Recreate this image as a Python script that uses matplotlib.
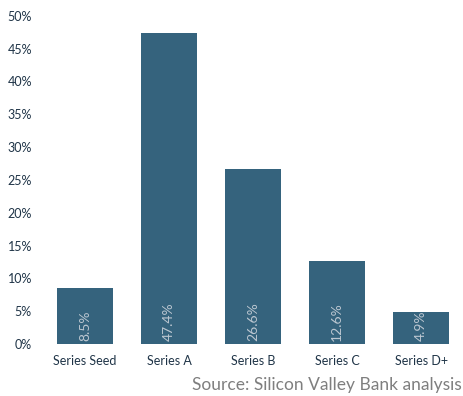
import matplotlib.pyplot as plt
from matplotlib.ticker import PercentFormatter

categories = ['Series Seed', 'Series A', 'Series B', 'Series C', 'Series D+']
values = [8.5, 47.4, 26.6, 12.6, 4.9]
yticks = [0, 5, 10, 15, 20, 25, 30, 35, 40, 45, 50]

plt.rcParams['font.family'] = ['Lato', 'DejaVu Sans']

fig = plt.figure(figsize=(4.63, 3.96), dpi=100)
ax = fig.add_axes([0.093, 0.131, 0.907, 0.829])

x = range(len(categories))
bars = ax.bar(x, values, width=0.66, color='#35637D')

for b, v in zip(bars, values):
    ax.text(b.get_x() + b.get_width() / 2, 0.4, f'{v}%', rotation=90,
            ha='center', va='bottom', color='#BCC7D1', fontsize=10)

ax.set_xlim(-0.5, len(categories) - 0.5)
ax.set_ylim(0, 50)
ax.set_yticks(yticks)
ax.yaxis.set_major_formatter(PercentFormatter(decimals=0))
ax.set_xticks(list(x))
ax.set_xticklabels(categories)
ax.tick_params(length=0, labelsize=9, colors='#1F3447', pad=8)
for s in ax.spines.values():
    s.set_visible(False)

fig.text(0.998, 0.028, 'Source: Silicon Valley Bank analysis', ha='right',
         va='center', color='#7F7F7F', fontsize=12.5)

fig.savefig('out.png', dpi=100)
